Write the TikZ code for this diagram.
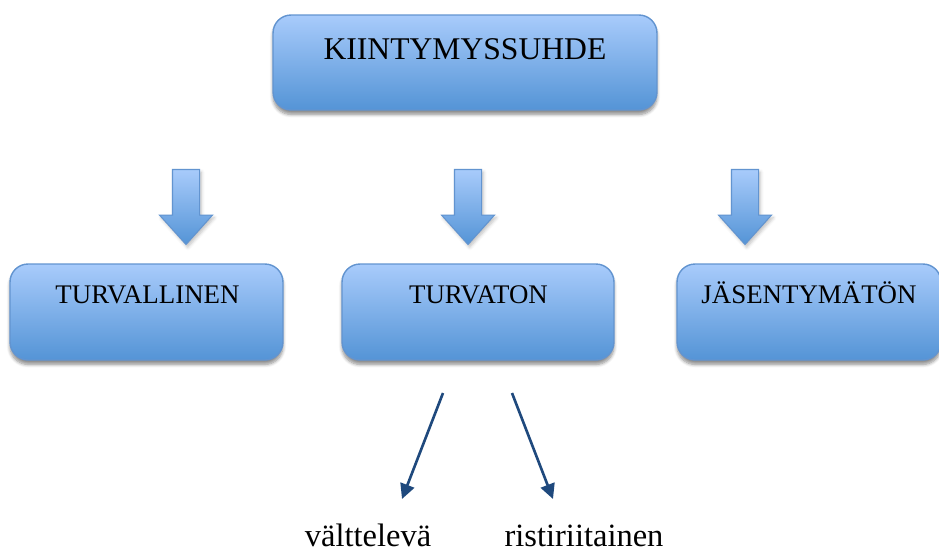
\documentclass[tikz,border=0pt]{standalone}
\usepackage{fontspec}
\setmainfont{Liberation Serif}
\usetikzlibrary{calc,shapes.arrows,shadows.blur,arrows.meta}

\definecolor{boxtop}{RGB}{168,203,251}
\definecolor{boxbottom}{RGB}{84,148,214}
\definecolor{boxline}{RGB}{98,148,208}
\definecolor{linkblue}{RGB}{31,73,125}

\begin{document}
\begin{tikzpicture}[x=0.02cm,y=-0.02cm,
		bluebox/.style={draw=boxline,line width=0.8pt,rounded corners=0.36cm,
			top color=boxtop,bottom color=boxbottom,inner sep=0pt,
			blur shadow={shadow xshift=0pt,shadow yshift=-2.5pt,shadow blur steps=6,shadow opacity=45}},
		downarrow/.style={single arrow,draw=boxline,line width=0.6pt,rotate=-90,
			top color=boxtop,bottom color=boxbottom,inner xsep=0pt,inner ysep=0.26cm,
			minimum height=1.5cm,single arrow head extend=0.26cm,single arrow tip angle=84,
			blur shadow={shadow xshift=1pt,shadow yshift=-1.5pt,shadow blur steps=4,shadow opacity=25}},
		linkarrow/.style={draw=linkblue,line width=1.5pt,-{Triangle[length=0.3cm,width=0.29cm]}}]
			% fix the size of the picture
			\useasboundingbox (0,0) rectangle (939,552);
			
			% draw the boxes
			\node[bluebox,minimum width=7.68cm,minimum height=1.9cm] (kiinty) at (465,62.5) {};
			\node[bluebox,minimum width=5.46cm,minimum height=1.92cm] (turva) at (146.5,312) {};
			\node[bluebox,minimum width=5.44cm,minimum height=1.92cm] (turvaton) at (478,312) {};
			\node[bluebox,minimum width=5.28cm,minimum height=1.92cm] (jasen) at (809,312) {};
			
			% draw the texts of the boxes
			\node[anchor=base,inner sep=0pt,font=\fontsize{18}{21}\selectfont] (kiintytext) at ($(kiinty.north)+(0,45)$) {KIINTYMYSSUHDE};
			\node[anchor=base,inner sep=0pt,font=\fontsize{15.3}{18}\selectfont] (turvatext) at ($(turva.north)+(1,40)$) {TURVALLINEN};
			\node[anchor=base,inner sep=0pt,font=\fontsize{15.3}{18}\selectfont] (turvatontext) at ($(turvaton.north)+(0.5,40)$) {TURVATON};
			\node[anchor=base,inner sep=0pt,font=\fontsize{15.3}{18}\selectfont] (jasentext) at ($(jasen.north)+(0,40)$) {JÄSENTYMÄTÖN};
			
			% draw the block arrows
			\foreach \x/\name in {186/a1,468/a2,745/a3}
			\node[downarrow] (\name) at (\x,199.5) {};
			
			% draw the two kinds of insecure attachment
			\node[anchor=base,inner sep=0pt,font=\fontsize{18.5}{22}\selectfont] (valtt) at (368,546) {välttelevä};
			\node[anchor=base,inner sep=0pt,font=\fontsize{18.5}{22}\selectfont] (risti) at (584,546) {ristiriitainen};
			\coordinate (v1) at (443,393);
			\coordinate (v2) at (402,499);
			\coordinate (r1) at (512,393);
			\coordinate (r2) at (553,499);
			\draw[linkarrow] (v1) -- (v2);
			\draw[linkarrow] (r1) -- (r2);
		\end{tikzpicture}
\end{document}
